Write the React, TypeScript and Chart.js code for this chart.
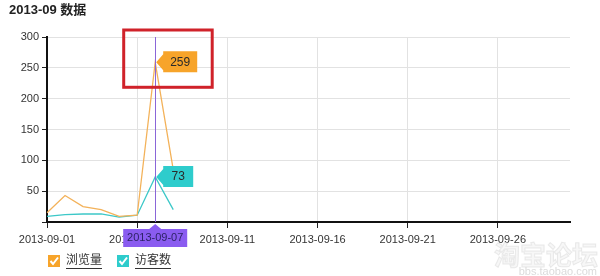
import React, { useEffect, useRef } from 'react';
import { Chart, registerables } from 'chart.js';

Chart.register(...registerables);

const chartTitle = '2013-09 数据';
const dates = [
  '2013-09-01', '2013-09-02', '2013-09-03', '2013-09-04', '2013-09-05',
  '2013-09-06', '2013-09-07', '2013-09-08', '2013-09-09', '2013-09-10',
  '2013-09-11', '2013-09-12', '2013-09-13', '2013-09-14', '2013-09-15',
  '2013-09-16', '2013-09-17', '2013-09-18', '2013-09-19', '2013-09-20',
  '2013-09-21', '2013-09-22', '2013-09-23', '2013-09-24', '2013-09-25',
  '2013-09-26', '2013-09-27', '2013-09-28', '2013-09-29', '2013-09-30',
];
const seriesNames = ['浏览量', '访客数'];
const pageViews = [15, 43, 25, 20, 9, 11, 259, 85];
const visitors = [9, 12, 13, 13, 8, 11, 73, 20];
const highlightIndex = 6;
const yMax = 300;
const yStep = 50;

const ORANGE = '#f7a42a';
const CYAN = '#2ecccc';
const PURPLE = '#8a5cf0';
const FONT = "'Liberation Sans', 'Noto Sans CJK SC', sans-serif";

const overlayPlugin = {
  id: 'overlay',
  afterDatasetsDraw(chart: any) {
    const { ctx, chartArea, scales } = chart;
    const px = scales.x.getPixelForValue(highlightIndex);
    ctx.save();
    ctx.strokeStyle = '#8a66d8';
    ctx.lineWidth = 1;
    ctx.beginPath();
    ctx.moveTo(Math.round(px) + 0.5, chartArea.top);
    ctx.lineTo(Math.round(px) + 0.5, chartArea.bottom);
    ctx.stroke();
    ctx.restore();
  },
  afterDraw(chart: any) {
    const { ctx, chartArea, scales } = chart;
    const x = scales.x;
    const y = scales.y;
    const px = x.getPixelForValue(highlightIndex);
    ctx.save();

    // title
    ctx.fillStyle = '#222';
    ctx.font = `bold 13px ${FONT}`;
    ctx.textBaseline = 'middle';
    ctx.textAlign = 'left';
    ctx.fillText(chartTitle, 9, 10);

    // value flags
    const drawFlag = (val: number, color: string, w: number) => {
      const py = y.getPixelForValue(val);
      const l = px + 8;
      const t = py - 11;
      const b = py + 10;
      ctx.fillStyle = color;
      ctx.beginPath();
      ctx.moveTo(px + 1, py);
      ctx.lineTo(l, py - 8);
      ctx.lineTo(l, t);
      ctx.lineTo(l + w, t);
      ctx.lineTo(l + w, b);
      ctx.lineTo(l, b);
      ctx.lineTo(l, py + 8);
      ctx.closePath();
      ctx.fill();
      ctx.fillStyle = '#2a2a2a';
      ctx.font = `12px ${FONT}`;
      ctx.textAlign = 'center';
      ctx.textBaseline = 'middle';
      ctx.fillText(String(val), l + w / 2, py);
    };
    drawFlag(pageViews[highlightIndex], ORANGE, 34);
    drawFlag(visitors[highlightIndex], CYAN, 30);

    // x label flag
    const by = chartArea.bottom + 7;
    ctx.fillStyle = PURPLE;
    ctx.beginPath();
    ctx.moveTo(px - 6, by);
    ctx.lineTo(px, by - 5);
    ctx.lineTo(px + 6, by);
    ctx.lineTo(px + 32, by);
    ctx.lineTo(px + 32, by + 18);
    ctx.lineTo(px - 32, by + 18);
    ctx.lineTo(px - 32, by);
    ctx.closePath();
    ctx.fill();
    ctx.fillStyle = '#2d2266';
    ctx.font = `11px ${FONT}`;
    ctx.textAlign = 'center';
    ctx.textBaseline = 'middle';
    ctx.fillText(dates[highlightIndex], px, by + 9);

    // red highlight rectangle
    const peakY = y.getPixelForValue(pageViews[highlightIndex]);
    ctx.strokeStyle = '#d0222a';
    ctx.lineWidth = 3;
    ctx.strokeRect(px - 31.5, chartArea.top - 7, 88.5, peakY + 25 - (chartArea.top - 7));

    // legend
    const colors = [ORANGE, CYAN];
    const legendX = [48, 117];
    seriesNames.forEach((name, i) => {
      const lx = legendX[i];
      const ly = 255;
      ctx.fillStyle = colors[i];
      ctx.fillRect(lx, ly, 12, 12);
      ctx.strokeStyle = '#fff';
      ctx.lineWidth = 2;
      ctx.beginPath();
      ctx.moveTo(lx + 2.5, ly + 6);
      ctx.lineTo(lx + 5, ly + 9);
      ctx.lineTo(lx + 10, ly + 2.5);
      ctx.stroke();
      ctx.fillStyle = '#333';
      ctx.font = `12px ${FONT}`;
      ctx.textAlign = 'left';
      ctx.textBaseline = 'middle';
      ctx.fillText(name, lx + 18, ly + 6);
      const tw = ctx.measureText(name).width;
      ctx.strokeStyle = '#333';
      ctx.lineWidth = 1;
      ctx.beginPath();
      ctx.moveTo(lx + 18, ly + 13.5);
      ctx.lineTo(lx + 18 + tw, ly + 13.5);
      ctx.stroke();
    });

    // watermark
    ctx.font = `bold 26px 'Noto Sans CJK SC', sans-serif`;
    ctx.textAlign = 'right';
    ctx.textBaseline = 'alphabetic';
    ctx.fillStyle = 'rgba(246,246,246,0.9)';
    ctx.fillText('淘宝论坛', 598, 265);
    ctx.strokeStyle = 'rgba(215,215,215,0.5)';
    ctx.lineWidth = 1;
    ctx.strokeText('淘宝论坛', 598, 265);
    ctx.font = `11px ${FONT}`;
    ctx.fillStyle = 'rgba(210,210,210,0.8)';
    ctx.fillText('bbs.taobao.com', 597, 275);

    ctx.restore();
  },
};

export default function App() {
  const canvasRef = useRef<HTMLCanvasElement | null>(null);

  useEffect(() => {
    const canvas = canvasRef.current;
    if (!canvas) return;
    const chart = new Chart(canvas, {
      type: 'line',
      data: {
        labels: dates,
        datasets: [
          {
            label: seriesNames[0],
            data: pageViews,
            borderColor: '#f3b25a',
            borderWidth: 1.3,
            pointRadius: 0,
            tension: 0,
            fill: false,
          },
          {
            label: seriesNames[1],
            data: visitors,
            borderColor: '#3cc8c8',
            borderWidth: 1.3,
            pointRadius: 0,
            tension: 0,
            fill: false,
          },
        ],
      },
      options: {
        animation: false,
        responsive: false,
        devicePixelRatio: 1,
        layout: { padding: { left: 0, right: 30, top: 37, bottom: 0 } },
        plugins: {
          legend: { display: false },
          tooltip: { enabled: false },
          title: { display: false },
        },
        scales: {
          x: {
            type: 'category',
            offset: false,
            afterFit: (s: any) => { s.height = 54; },
            border: { color: '#111', width: 2 },
            grid: {
              color: (c: any) => (c.index % 5 === 0 ? '#e2e2e2' : 'rgba(0,0,0,0)'),
              tickColor: (c: any) => (c.index % 5 === 0 ? '#222' : 'rgba(0,0,0,0)'),
              tickLength: 6,
              lineWidth: 1,
            },
            ticks: {
              autoSkip: false,
              maxRotation: 0,
              padding: 5,
              color: '#333',
              font: { size: 11, family: FONT },
              callback: (_v: any, i: number) => (i % 5 === 0 ? dates[i] : ''),
            },
          },
          y: {
            min: 0,
            max: yMax,
            afterFit: (s: any) => { s.width = 47; },
            border: { color: '#111', width: 2 },
            grid: {
              color: '#e2e2e2',
              tickColor: '#222',
              tickLength: 5,
            },
            ticks: {
              stepSize: yStep,
              padding: 3,
              color: '#333',
              font: { size: 11, family: FONT },
              callback: (v: any) => (v === 0 ? '' : String(v)),
            },
          },
        },
      },
      plugins: [overlayPlugin],
    } as any);
    return () => chart.destroy();
  }, []);

  return (
    <div style={{ position: 'absolute', left: 0, top: 0, width: 600, height: 276, background: '#fff' }}>
      <canvas ref={canvasRef} width={600} height={276} style={{ width: 600, height: 276, display: 'block' }} />
    </div>
  );
}
